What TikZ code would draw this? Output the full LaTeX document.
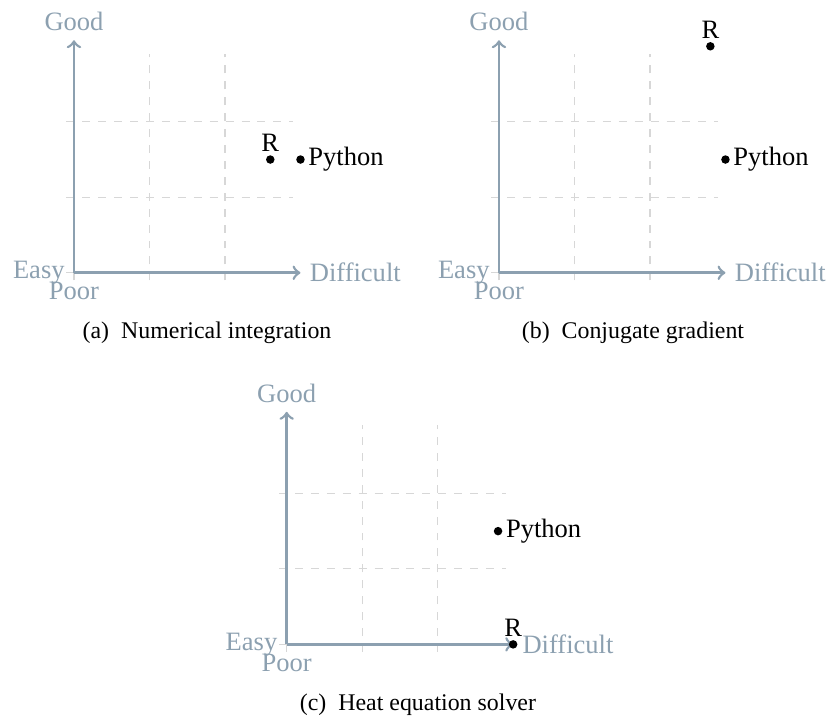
\documentclass[tikz,border=0pt]{standalone}
\usepackage{fontspec}
\setmainfont{Liberation Serif}
\definecolor{axiscol}{RGB}{140,160,176}
\definecolor{gridcol}{RGB}{215,215,215}
\begin{document}
\begin{tikzpicture}[
  axisline/.style={draw=axiscol,line width=1pt,->},
  gridline/.style={draw=gridcol,dashed,line width=0.4pt},
  axlabel/.style={text=axiscol,font=\fontsize{10}{12}\selectfont},
  dot/.style={circle,fill=black,inner sep=0pt,minimum size=3.2pt},
  ptlabel/.style={font=\fontsize{10}{12}\selectfont},
  captext/.style={font=\fontsize{9}{11}\selectfont,anchor=base}
]
\useasboundingbox (0,0) rectangle (10.967,9.497);
% ---------- panel (a)
\begin{scope}[shift={(0.980,5.884)}]
  \draw[gridline] (-0.1,-0.1) grid (2.9,2.9);
  \coordinate (a-o) at (0,0);
  \coordinate (a-x) at (3,0);
  \coordinate (a-y) at (0,3.08);
  \draw[axisline] (a-o) -- (a-x);
  \draw[axisline] (a-o) -- (a-y);
  \node[axlabel,above] (a-good) at (a-y) {Good};
  \node[axlabel,right] (a-diff) at (a-x) {Difficult};
  \node[axlabel,left] (a-easy) at (a-o) {Easy};
  \node[axlabel,below] (a-poor) at (a-o) {Poor};
  \node[dot,label={[ptlabel,inner sep=1pt]above:R}] (a-r) at (2.6,1.5) {};
  \node[dot,label={[ptlabel,inner sep=1pt]right:Python}] (a-py) at (3,1.5) {};
\end{scope}
\node[captext] (capa) at (2.742,5.02) {(a)\enspace Numerical integration};
% ---------- panel (b)
\begin{scope}[shift={(6.609,5.884)}]
  \draw[gridline] (-0.1,-0.1) grid (2.9,2.9);
  \coordinate (b-o) at (0,0);
  \coordinate (b-x) at (3,0);
  \coordinate (b-y) at (0,3.08);
  \draw[axisline] (b-o) -- (b-x);
  \draw[axisline] (b-o) -- (b-y);
  \node[axlabel,above] (b-good) at (b-y) {Good};
  \node[axlabel,right] (b-diff) at (b-x) {Difficult};
  \node[axlabel,left] (b-easy) at (b-o) {Easy};
  \node[axlabel,below] (b-poor) at (b-o) {Poor};
  \node[dot,label={[ptlabel,inner sep=1pt]above:R}] (b-r) at (2.8,3) {};
  \node[dot,label={[ptlabel,inner sep=1pt]right:Python}] (b-py) at (3,1.5) {};
\end{scope}
\node[captext] (capb) at (8.384,5.02) {(b)\enspace Conjugate gradient};
% ---------- panel (c)
\begin{scope}[shift={(3.797,0.962)}]
  \draw[gridline] (-0.1,-0.1) grid (2.9,2.9);
  \coordinate (c-o) at (0,0);
  \coordinate (c-x) at (3,0);
  \coordinate (c-y) at (0,3.08);
  \draw[axisline] (c-o) -- (c-x);
  \draw[axisline] (c-o) -- (c-y);
  \node[axlabel,above] (c-good) at (c-y) {Good};
  \node[axlabel,right] (c-diff) at (c-x) {Difficult};
  \node[axlabel,left] (c-easy) at (c-o) {Easy};
  \node[axlabel,below] (c-poor) at (c-o) {Poor};
  \node[dot,label={[ptlabel,inner sep=1pt]above:R}] (c-r) at (3,0) {};
  \node[dot,label={[ptlabel,inner sep=1pt]right:Python}] (c-py) at (2.8,1.5) {};
\end{scope}
\node[captext] (capc) at (5.536,0.083) {(c)\enspace Heat equation solver};
\end{tikzpicture}
\end{document}
